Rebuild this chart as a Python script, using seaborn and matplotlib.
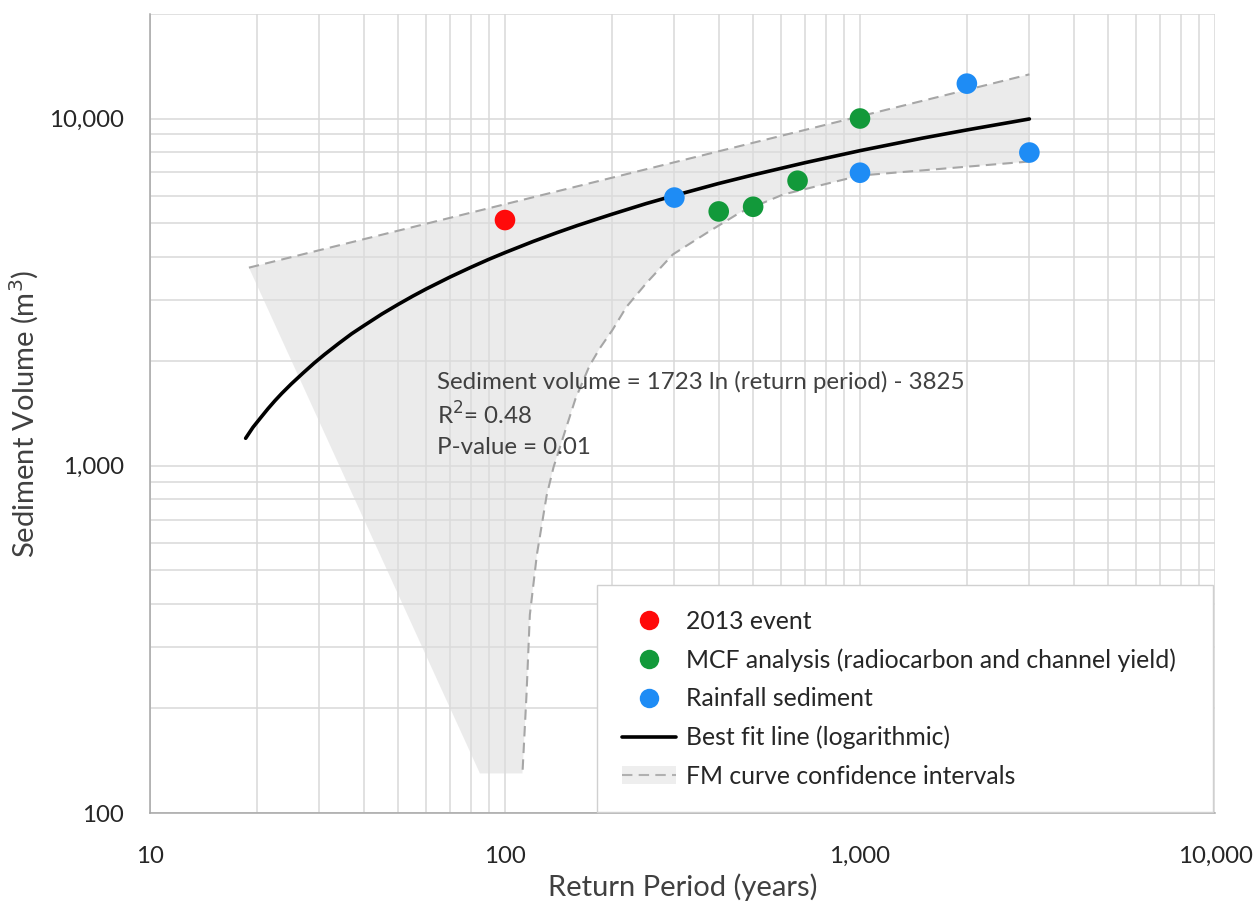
import matplotlib
matplotlib.use("Agg")
import matplotlib.pyplot as plt
from matplotlib.lines import Line2D
from matplotlib.patches import Patch
from matplotlib.ticker import FuncFormatter, LogLocator, NullFormatter
import seaborn as sns
import pandas as pd

# values
event_x = [100]
event_y = [5100]
mcf_x = [400, 500, 667, 1000]
mcf_y = [5400, 5570, 6620, 10000]
rain_x = [300, 1000, 2000, 3000]
rain_y = [5920, 6980, 12600, 7980]

# best fit line (logarithmic), sampled along the drawn curve
fit_x = [18.6, 19.5, 20.5, 21.5, 22.5, 23.5, 25, 27, 29, 31, 34, 37, 40, 45,
         50, 55, 60, 70, 80, 90, 100, 120, 140, 160, 200, 250, 300, 400, 500,
         700, 1000, 1500, 2000, 3000]
fit_y = [1200, 1290, 1375, 1460, 1540, 1615, 1720, 1850, 1975, 2090, 2250,
         2400, 2530, 2735, 2915, 3080, 3230, 3495, 3725, 3930, 4110, 4425,
         4690, 4920, 5300, 5690, 6000, 6500, 6880, 7460, 8080, 8780, 9270, 9970]

# FM curve confidence intervals
ci_upper_x = [19, 3000]
ci_upper_y = [3720, 13400]
ci_lower_x = [3000, 1000, 607, 459, 371, 297, 251, 220, 201, 185, 173, 158,
              146, 137, 131, 123, 117.5, 115, 112]
ci_lower_y = [7520, 6850, 6040, 5360, 4690, 4060, 3370, 2870, 2465, 2180, 1940,
              1560, 1213, 990, 820, 555, 372, 220, 130]
shade_tip_x = [85]
shade_tip_y = [130]

eq_text = "Sediment volume = 1723 ln (return period) - 3825"
r2_text = "R$^2$= 0.48"
p_text = "P-value = 0.01"

sns.set_style("white")
plt.rcParams['font.family'] = ['Lato', 'DejaVu Sans']
txt_col = "#404040"
grid_col = "#d9d9d9"

fig = plt.figure(figsize=(12.57, 9.07), dpi=100)
ax = fig.add_axes([0.1193, 0.1036, 0.8473, 0.881])
ax.set_xscale("log")
ax.set_yscale("log")
ax.set_xlim(10, 10000)
ax.set_ylim(100, 20000)

# shaded confidence region
ax.fill(ci_upper_x + ci_lower_x + shade_tip_x,
        ci_upper_y + ci_lower_y + shade_tip_y,
        color="#dcdcdc", alpha=0.55, lw=0, zorder=1)

dash_kw = dict(color="#a6a6a6", lw=1.5, dashes=(5, 3), zorder=2)
sns.lineplot(x=ci_upper_x, y=ci_upper_y, ax=ax, estimator=None, sort=False, **dash_kw)
sns.lineplot(x=ci_lower_x, y=ci_lower_y, ax=ax, estimator=None, sort=False, **dash_kw)

sns.lineplot(x=fit_x, y=fit_y, ax=ax, estimator=None, sort=False,
             color="black", lw=2.6, zorder=3)

pts = pd.DataFrame({
    "x": event_x + mcf_x + rain_x,
    "y": event_y + mcf_y + rain_y,
    "grp": ["event"] * len(event_x) + ["mcf"] * len(mcf_x) + ["rain"] * len(rain_x),
})
colors = {"event": "#ff0a0a", "mcf": "#12993a", "rain": "#1e8cf5"}
sns.scatterplot(data=pts, x="x", y="y", hue="grp", palette=colors, s=220,
                edgecolor="none", legend=False, ax=ax, zorder=4)

# grid and axes styling
ax.yaxis.set_major_locator(LogLocator(base=10))
ax.xaxis.set_major_locator(LogLocator(base=10))
ax.yaxis.set_minor_locator(LogLocator(base=10, subs=range(2, 10)))
ax.xaxis.set_minor_locator(LogLocator(base=10, subs=range(2, 10)))
ax.xaxis.set_minor_formatter(NullFormatter())
ax.yaxis.set_minor_formatter(NullFormatter())
fmt = FuncFormatter(lambda v, p: f"{v:,.0f}")
ax.xaxis.set_major_formatter(fmt)
ax.yaxis.set_major_formatter(fmt)
ax.grid(True, which="both", color=grid_col, lw=1.1, zorder=0)
ax.set_axisbelow(True)
for s in ["top", "right"]:
    ax.spines[s].set_visible(False)
for s in ["left", "bottom"]:
    ax.spines[s].set_color("#a6a6a6")
    ax.spines[s].set_linewidth(1.1)
ax.tick_params(which="major", length=8.5, width=1, color="#a6a6a6",
               labelsize=17.3, labelcolor="#262626")
ax.tick_params(axis="x", which="major", pad=15)
ax.tick_params(axis="y", which="major", pad=10)
ax.tick_params(which="minor", length=0)

ax.set_xlabel("Return Period (years)", fontsize=21, color=txt_col, labelpad=5)
ax.set_ylabel("Sediment Volume (m$^3$)", fontsize=21, color=txt_col, labelpad=6)

for i, t in enumerate([eq_text, r2_text, p_text]):
    ax.text(0.2695, 0.54 - i * 0.0415, t, transform=ax.transAxes, fontsize=17.4,
            color=txt_col, va="center", ha="left")

handles = [
    Line2D([], [], ls="none", marker="o", ms=14, color=colors["event"], mec="none"),
    Line2D([], [], ls="none", marker="o", ms=14, color=colors["mcf"], mec="none"),
    Line2D([], [], ls="none", marker="o", ms=14, color=colors["rain"], mec="none"),
    Line2D([], [], color="black", lw=2.6),
    (Patch(facecolor="#eeeeee", edgecolor="none"),
     Line2D([], [], color="#b0b0b0", lw=1.5, dashes=(5, 3))),
]
labels = ["2013 event", "MCF analysis (radiocarbon and channel yield)",
          "Rainfall sediment", "Best fit line (logarithmic)",
          "FM curve confidence intervals"]
leg = ax.legend(handles, labels, loc="lower left", mode="expand",
                bbox_to_anchor=(0.4197, 0.001, 0.5784, 0.3),
                borderaxespad=0, fontsize=17.8, frameon=True, fancybox=False,
                edgecolor="#d0d0d0", framealpha=1, handlelength=2.2,
                handletextpad=0.4, labelspacing=0.62, borderpad=1.0)
for t in leg.get_texts():
    t.set_color("#262626")

fig.savefig("out.png", dpi=100, facecolor="white")
